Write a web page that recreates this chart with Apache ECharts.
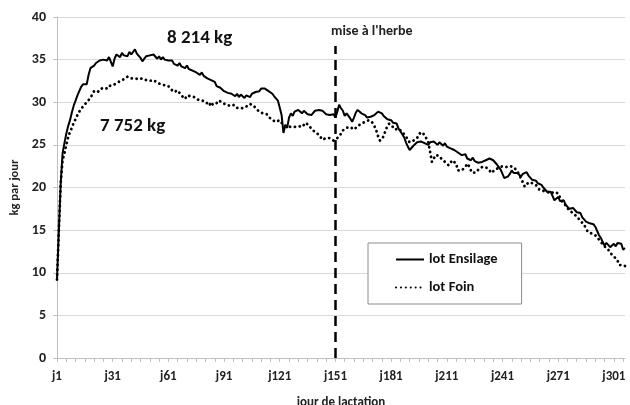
<!DOCTYPE html>
<html><head><meta charset="utf-8">
<script src="https://cdn.jsdelivr.net/npm/echarts@6/dist/echarts.min.js"></script>
<style>html,body{margin:0;padding:0;background:#fff}#c{width:630px;height:405px}</style>
</head><body><div id="c"></div>
<script>
// lot Ensilage, kg par jour, j1..j307
const ensilage = [
9.2,15,20.5,24,25.2,26.3,27.2,27.9,28.8,29.6,
30.2,30.8,31.3,31.8,32.1,31.9,32.1,33.2,34,34.2,
34.3,34.6,34.5,34.9,34.7,35.0,35.2,34.9,35.3,35.1,
34.2,35.1,35.6,35.7,35.3,35.8,35.5,35.7,35.4,35.9,
35.6,35.8,36.2,35.7,35.9,35.2,34.8,35.0,35.4,35.2,
35.5,35.3,35.6,35.5,35.1,35.4,35.0,35.3,35.0,35.2,
34.9,34.7,34.9,34.5,34.6,34.3,34.6,34.2,34.4,34.0,
34.3,33.9,34.0,33.7,33.9,33.5,33.6,33.2,33.5,33.1,
33.2,32.8,33.0,32.6,32.7,32.4,31.9,32.1,31.7,31.6,
31.3,31.5,31.1,30.9,31.0,30.8,30.7,31.0,30.6,30.9,
30.7,30.5,30.8,30.6,30.6,31.0,30.8,31.2,31.4,31.3,
31.6,31.8,31.6,31.5,31.3,31.4,31.0,30.7,30.5,30.2,
30.0,28.5,26.4,27.3,27.0,28.2,28.7,28.4,28.9,28.8,
29.1,28.9,28.7,29.0,28.9,28.6,28.8,28.5,28.7,29.0,
28.8,29.1,29.3,29.0,28.8,28.6,28.7,28.5,28.4,28.6,
28.2,28.9,29.7,29.3,29.0,28.4,28.7,28.5,28.1,27.7,
28.2,28.8,29.1,28.9,28.7,28.8,28.5,28.2,28.4,28.3,
28.1,28.5,28.7,28.9,28.9,28.7,28.4,28.3,28.0,27.8,
27.9,27.6,27.7,27.5,26.9,26.6,26.4,25.9,25.3,24.8,
24.4,24.6,24.9,25.0,25.3,25.1,25.4,25.6,25.2,25.3,
25.0,25.3,25.1,25.4,25.2,25.0,25.3,25.1,24.9,25.2,
24.8,24.9,24.6,24.8,24.4,24.6,24.1,24.2,23.8,23.6,
23.9,23.4,23.6,23.2,23.5,23.1,23.3,22.9,22.8,23.0,
22.9,23.2,23.0,23.4,23.6,23.2,23.0,22.7,22.6,22.1,
21.6,21.1,20.9,21.3,21.6,22.0,21.7,21.5,21.7,21.5,
21.3,21.6,21.8,21.8,21.4,21.2,20.9,20.7,20.8,20.5,
20.6,20.3,20.0,19.8,19.5,19.3,19.5,19.0,18.5,18.7,
18.9,18.4,18.2,18.5,18.0,17.8,17.5,17.3,17.6,17.4,
17.1,17.3,17.0,16.5,16.3,16.0,16.2,15.8,15.6,15.7,
15.4,14.9,14.4,14.1,13.6,13.2,13.5,13.3,13.0,13.2,
13.4,13.1,13.5,13.7,13.4,12.7,12.9
];
// lot Foin, kg par jour, j1..j307
const foin = [
9.2,15,20.5,23.2,24.0,25.0,25.9,26.5,27.0,27.6,
28.0,28.5,28.9,29.2,29.5,29.7,30.0,30.2,30.5,30.9,
31.3,31.4,31.2,31.5,31.6,31.7,31.8,31.6,31.9,32.0,
32.0,32.1,32.2,32.4,32.5,32.6,32.7,32.8,33.0,33.0,
32.8,32.7,32.8,32.6,32.7,32.6,32.8,32.7,32.6,32.6,
32.5,32.4,32.6,32.4,32.3,32.3,32.1,32.2,32.0,32.0,
31.9,31.6,31.4,31.2,31.0,31.4,31.2,30.8,31.0,30.4,
30.8,30.6,30.7,30.5,30.6,30.5,30.3,30.4,30.2,30.3,
30.1,30.2,29.6,30.0,29.7,29.8,29.9,30.2,30.2,30.0,
29.8,29.7,29.6,29.6,29.5,29.7,29.4,29.6,29.3,29.5,
29.3,29.3,29.5,29.6,29.8,29.8,29.6,29.3,29.1,28.9,
28.9,28.7,28.6,28.6,28.3,28.4,27.9,27.7,27.7,27.8,
27.9,27.9,27.3,27.1,27.2,27.0,27.1,27.1,27.1,27.0,
27.2,27.1,27.1,27.3,27.6,27.5,27.2,26.9,26.7,26.5,
26.4,26.2,25.9,25.6,25.7,25.8,25.9,25.8,25.6,25.5,
25.6,25.8,25.9,26.3,26.7,26.8,27.0,27.1,27.1,26.9,
26.8,26.9,27.2,27.4,27.5,27.6,27.7,27.8,27.9,27.8,
27.6,27.2,26.7,26.0,25.5,25.4,26.0,26.7,27.2,27.5,
27.4,27.1,26.8,26.7,26.9,26.7,26.5,26.4,26.0,25.6,
25.3,25.2,25.5,25.7,25.8,26.2,26.5,26.4,26.2,26.1,
25.3,24.2,23.0,23.4,23.8,24.0,23.7,23.4,23.2,23.0,
22.8,22.6,22.9,23.2,23.4,22.8,22.0,22.1,22.0,22.0,
22.4,22.8,22.5,22.0,21.7,21.5,21.8,22.1,22.3,22.4,
22.2,22.4,22.3,22.0,21.7,21.9,22.1,22.3,22.3,22.4,
22.5,22.3,22.4,22.4,22.5,22.3,22.4,22.2,21.9,21.5,
21.3,20.6,20.1,20.3,20.6,20.7,20.5,20.5,20.3,20.0,
19.7,19.5,19.6,19.8,19.5,19.3,19.3,19.4,19.5,19.4,
19.3,18.8,18.4,18.2,17.9,17.6,17.3,17.2,17.0,16.8,
16.6,16.4,16.1,15.9,15.6,15.2,14.8,14.7,14.6,14.4,
14.4,14.2,13.9,13.6,13.4,13.1,12.9,12.7,12.4,12.1,
11.9,11.7,11.4,10.9,10.8,10.9,10.8
];
const days = [];
for (let i = 1; i <= ensilage.length; i++) days.push('j' + i);
const seriesNames = ['lot Ensilage', 'lot Foin'];
const grassDay = 'j151';
const grassTop = 36.6;
const totals = ['8 214 kg', '7 752 kg'];
const yTicks = [0, 5, 10, 15, 20, 25, 30, 35, 40];

const FONT = "'Carlito','Liberation Sans','Open Sans',sans-serif";
const chart = echarts.init(document.getElementById('c'), null, {renderer: 'canvas'});
chart.setOption({
  animation: false,
  backgroundColor: '#fff',
  textStyle: {fontFamily: FONT},
  grid: {left: 57, right: 5, top: 17, bottom: 47, containLabel: false, outerBoundsMode: 'none'},
  xAxis: {
    type: 'category', data: days, boundaryGap: false,
    name: 'jour de lactation', nameLocation: 'middle', nameGap: 38,
    nameTextStyle: {fontSize: 13, fontWeight: 'bold', color: '#222', fontFamily: FONT},
    axisLine: {lineStyle: {color: '#bfbfbf', width: 1}},
    axisTick: {show: true, length: 4, interval: function (i) { return i % 5 === 0; }, lineStyle: {color: '#bfbfbf'}},
    axisLabel: {interval: function (i) { return i % 30 === 0; }, margin: 12, fontSize: 13, fontWeight: 'bold', color: '#222', fontFamily: FONT},
    splitLine: {show: false}
  },
  yAxis: {
    type: 'value', min: yTicks[0], max: yTicks[yTicks.length - 1], interval: 5,
    name: 'kg par jour', nameLocation: 'middle', nameGap: 36, nameRotate: 90,
    nameTextStyle: {fontSize: 12.5, fontWeight: 'bold', color: '#222', fontFamily: FONT},
    axisLine: {show: true, lineStyle: {color: '#bfbfbf'}},
    axisTick: {show: true, length: 4, lineStyle: {color: '#bfbfbf'}},
    axisLabel: {margin: 11, fontSize: 14, fontWeight: 'bold', color: '#222', fontFamily: FONT},
    splitLine: {lineStyle: {color: '#d9d9d9', width: 1}}
  },
  legend: {
    orient: 'vertical', left: 368, top: 243,
    padding: [9, 24, 9, 27], itemGap: 13, itemWidth: 28, itemHeight: 14,
    borderColor: '#8c8c8c', borderWidth: 1, backgroundColor: '#fff',
    itemStyle: {opacity: 0},
    textStyle: {fontSize: 14.5, fontWeight: 'bold', color: '#111', fontFamily: FONT},
    data: seriesNames
  },
  series: [
    {
      name: seriesNames[0], type: 'line', data: ensilage, symbol: 'none', z: 3,
      lineStyle: {color: '#000', width: 2}, itemStyle: {color: '#000'},
      markLine: {
        silent: true, symbol: 'none', label: {show: false},
        lineStyle: {color: '#000', width: 2.5, type: [10, 6]},
        data: [[{coord: [grassDay, 0]}, {coord: [grassDay, grassTop]}]]
      }
    },
    {
      name: seriesNames[1], type: 'line', data: foin, symbol: 'none', z: 2,
      lineStyle: {color: '#000', width: 2.8, type: [0.1, 4.8], cap: 'round'}, itemStyle: {color: '#000'}
    }
  ],
  graphic: [
    {type: 'text', left: 167, top: 29, style: {text: totals[0], font: "bold 19px " + FONT, fill: '#111'}},
    {type: 'text', left: 100, top: 117, style: {text: totals[1], font: "bold 19px " + FONT, fill: '#111'}},
    {type: 'text', left: 331, top: 24, style: {text: "mise à l'herbe", font: "bold 14px " + FONT, fill: '#222'}}
  ]
});
</script></body></html>
